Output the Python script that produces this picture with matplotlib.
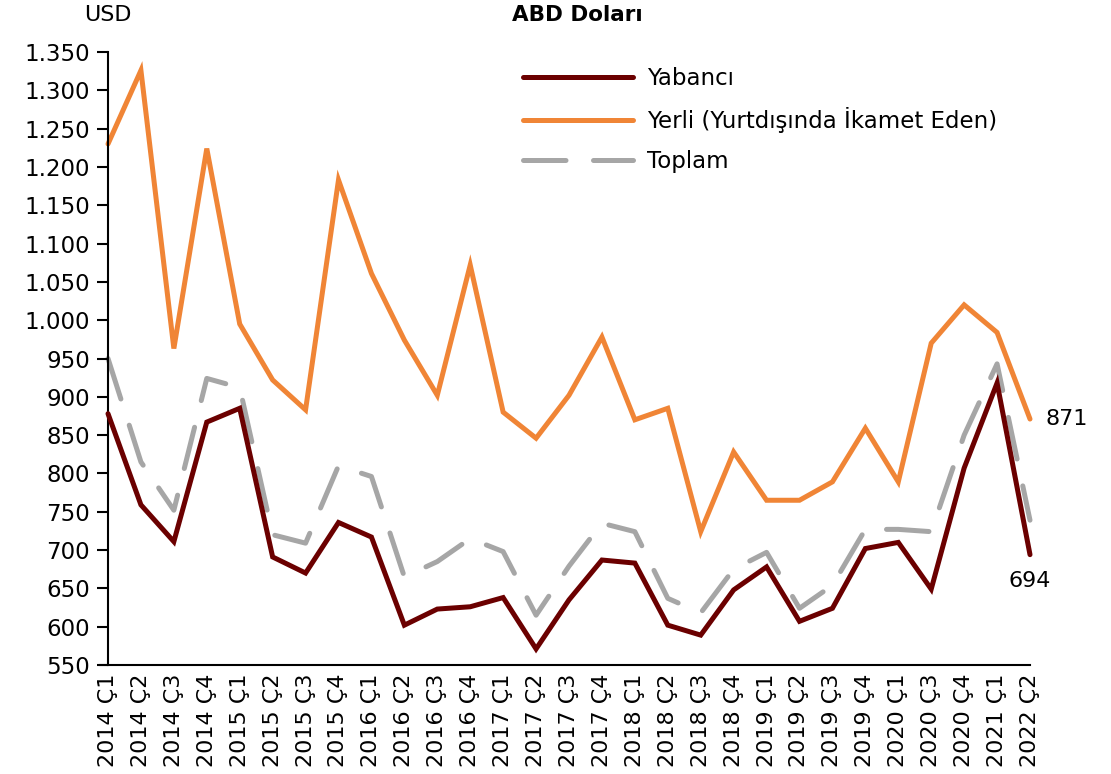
import matplotlib
matplotlib.use("Agg")
import matplotlib.pyplot as plt
from matplotlib.ticker import FuncFormatter, MultipleLocator

plt.rcParams['font.family'] = ['DejaVu Sans']

categories = ["2014 Ç1", "2014 Ç2", "2014 Ç3", "2014 Ç4",
              "2015 Ç1", "2015 Ç2", "2015 Ç3", "2015 Ç4",
              "2016 Ç1", "2016 Ç2", "2016 Ç3", "2016 Ç4",
              "2017 Ç1", "2017 Ç2", "2017 Ç3", "2017 Ç4",
              "2018 Ç1", "2018 Ç2", "2018 Ç3", "2018 Ç4",
              "2019 Ç1", "2019 Ç2", "2019 Ç3", "2019 Ç4",
              "2020 Ç1", "2020 Ç3", "2020 Ç4", "2021 Ç1", "2022 Ç2"]

yabanci = [878, 759, 711, 867, 885, 691, 670, 736, 717, 602, 623, 626, 638, 571,
           635, 687, 683, 602, 589, 648, 678, 607, 624, 702, 710, 649, 807, 918, 694]
yerli = [1230, 1326, 963, 1224, 995, 922, 883, 1183, 1061, 974, 902, 1072, 880, 846,
         902, 978, 870, 885, 724, 828, 765, 765, 789, 859, 789, 970, 1020, 984, 871]
toplam = [950, 815, 752, 924, 912, 720, 709, 810, 796, 665, 685, 715, 698, 615,
          679, 735, 724, 637, 618, 675, 697, 624, 654, 727, 727, 724, 850, 943, 739]

series_names = ["Yabancı", "Yerli (Yurtdışında İkamet Eden)", "Toplam"]

fig = plt.figure(figsize=(11.11, 7.74), dpi=100)
ax = fig.add_axes([108/1111, 1 - 665/774, (1030 - 108)/1111, (665 - 52)/774])

x = list(range(len(categories)))
lw = 3.6
ax.plot(x, yabanci, color="#6B0000", lw=lw, label=series_names[0],
        solid_capstyle='round', solid_joinstyle='miter', clip_on=False, zorder=3)
ax.plot(x, yerli, color="#F08536", lw=lw, label=series_names[1],
        solid_capstyle='round', solid_joinstyle='miter', clip_on=False, zorder=2)
ln, = ax.plot(x, toplam, color="#A6A6A6", lw=lw, label=series_names[2],
              dash_capstyle='round', clip_on=False, zorder=1)
ln.set_dashes([8.5, 5.5])

ax.set_xlim(0, len(categories) - 1)
ax.set_ylim(550, 1350)
ax.yaxis.set_major_locator(MultipleLocator(50))
ax.yaxis.set_major_formatter(FuncFormatter(lambda v, p: f"{int(v):,}".replace(",", ".")))
ax.set_xticks(x)
ax.set_xticklabels(categories, rotation=90, fontsize=16)
ax.tick_params(axis='x', length=0, pad=6)
ax.tick_params(axis='y', length=8, width=1.5, labelsize=16.5, pad=5, direction='out')
for s in ['top', 'right']:
    ax.spines[s].set_visible(False)
for s in ['left', 'bottom']:
    ax.spines[s].set_linewidth(1.5)
    ax.spines[s].set_color('black')
ax.spines['bottom'].set_bounds(-0.25, len(categories) - 1)
ax.spines['bottom'].set_clip_on(False)

ax.annotate(f"{yerli[-1]}", xy=(x[-1], yerli[-1]), xytext=(11, 0),
            textcoords='offset points', fontsize=16, va='center', ha='left')
ax.annotate(f"{yabanci[-1]}", xy=(x[-1], yabanci[-1]), xytext=(0, -12),
            textcoords='offset points', fontsize=16, va='top', ha='center')

leg = ax.legend(loc='upper left', bbox_to_anchor=(400/922, 1.0), frameon=False,
                fontsize=16.5, handlelength=4.8, handletextpad=0.6, labelspacing=0.75,
                borderaxespad=0.25)

fig.text(108/1111, 1 - 15/774, "USD", fontsize=16, ha='center', va='center')
fig.text(577/1111, 1 - 15/774, "ABD Doları", fontsize=15.5, fontweight='bold',
         ha='center', va='center')

fig.savefig("out.png", dpi=100)
